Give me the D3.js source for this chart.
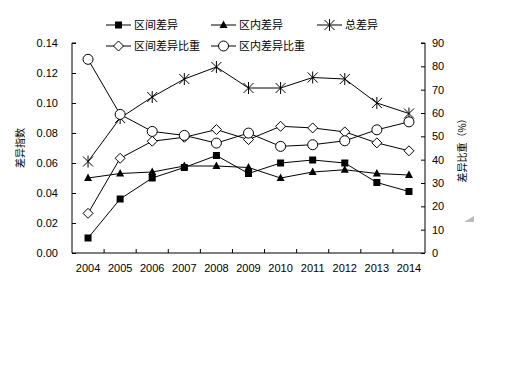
<!DOCTYPE html>
<html>
<head>
<meta charset="utf-8">
<script src="https://cdn.jsdelivr.net/npm/d3@7.9.0/dist/d3.min.js"></script>
<style>
  body { margin: 0; background: #fff; }
  svg { display: block; }
  text { font-family: "Liberation Sans", Arial, sans-serif; fill: #000; }
  .zh { font-family: "Noto Sans CJK SC", sans-serif; }
</style>
</head>
<body>
<svg width="512" height="384"></svg>
<script>
// data
const years = ['2004','2005','2006','2007','2008','2009','2010','2011','2012','2013','2014'];
const interDiff = [0.010, 0.036, 0.050, 0.057, 0.065, 0.053, 0.060, 0.062, 0.060, 0.047, 0.041];
const intraDiff = [0.050, 0.053, 0.054, 0.058, 0.058, 0.057, 0.050, 0.054, 0.0555, 0.053, 0.052];
const totalDiff = [0.061, 0.090, 0.104, 0.116, 0.124, 0.110, 0.110, 0.117, 0.116, 0.100, 0.093];
const interShare = [17.0, 40.6, 47.9, 49.6, 52.9, 48.6, 54.3, 53.6, 51.9, 47.2, 43.8];
const intraShare = [83.0, 59.4, 52.1, 50.4, 47.1, 51.4, 45.7, 46.4, 48.1, 52.8, 56.2];
const leftTicks = [0, 0.02, 0.04, 0.06, 0.08, 0.10, 0.12, 0.14];
const rightTicks = [0, 10, 20, 30, 40, 50, 60, 70, 80, 90];

const series = [
  { name: '区间差异', values: interDiff, axis: 'left', marker: 'square' },
  { name: '区内差异', values: intraDiff, axis: 'left', marker: 'triangle' },
  { name: '总差异', values: totalDiff, axis: 'left', marker: 'star' },
  { name: '区间差异比重', values: interShare, axis: 'right', marker: 'diamond' },
  { name: '区内差异比重', values: intraShare, axis: 'right', marker: 'circle' }
];

const svg = d3.select('svg');
const plotL = 72, plotR = 425, plotT = 43, plotB = 253;

const x = d3.scaleBand().domain(years).range([plotL, plotR]);
const yL = d3.scaleLinear().domain([0, 0.14]).range([plotB, plotT]);
const yR = d3.scaleLinear().domain([0, 90]).range([plotB, plotT]);

// axes (ticks point inward)
svg.append('g')
  .attr('transform', `translate(${plotL},0)`)
  .call(d3.axisRight(yL).tickValues(leftTicks).tickSize(4).tickFormat(''))
  .call(g => g.select('.domain').attr('d', `M4,${plotT}H0V${plotB}`));
svg.append('g').selectAll('text').data(leftTicks).join('text')
  .attr('x', plotL - 14).attr('y', d => yL(d) + 4)
  .attr('text-anchor', 'end').attr('font-size', 11)
  .text(d => d3.format('.2f')(d));

svg.append('g')
  .attr('transform', `translate(${plotR},0)`)
  .call(d3.axisLeft(yR).tickValues(rightTicks).tickSize(4).tickFormat(''))
  .call(g => g.select('.domain').attr('d', `M-4,${plotT}H0V${plotB}`));
svg.append('g').selectAll('text').data(rightTicks).join('text')
  .attr('x', plotR + 7).attr('y', d => yR(d) + 4)
  .attr('text-anchor', 'start').attr('font-size', 11)
  .text(d => d);

// x axis, ticks at band edges
const xg = svg.append('g');
xg.append('line').attr('x1', plotL).attr('x2', plotR).attr('y1', plotB).attr('y2', plotB).attr('stroke', '#000');
xg.selectAll('line.t').data(years.slice(1)).join('line')
  .attr('class', 't')
  .attr('x1', d => x(d)).attr('x2', d => x(d))
  .attr('y1', plotB).attr('y2', plotB - 4).attr('stroke', '#000');
xg.selectAll('text').data(years).join('text')
  .attr('x', d => x(d) + x.bandwidth() / 2).attr('y', 272)
  .attr('text-anchor', 'middle').attr('font-size', 11)
  .text(d => d);
svg.selectAll('.domain, .tick line').attr('stroke', '#000');

// axis titles
svg.append('text').attr('class', 'zh')
  .attr('transform', `translate(24,${(plotT + plotB) / 2}) rotate(-90)`)
  .attr('text-anchor', 'middle').attr('font-size', 10)
  .text('差异指数');
svg.append('text').attr('class', 'zh')
  .attr('transform', `translate(466,${(plotT + plotB) / 2}) rotate(-90)`)
  .attr('text-anchor', 'middle').attr('font-size', 10)
  .text('差异比重（%）');

function drawMarker(g, type, cx, cy) {
  if (type === 'square') {
    g.append('rect').attr('x', cx - 3.5).attr('y', cy - 3.5).attr('width', 7).attr('height', 7).attr('fill', '#000');
  } else if (type === 'triangle') {
    g.append('path').attr('d', `M${cx},${cy - 4.5}L${cx + 4},${cy + 3}L${cx - 4},${cy + 3}Z`).attr('fill', '#000');
  } else if (type === 'star') {
    const r = 5;
    g.append('path')
      .attr('d', `M${cx - r},${cy - r}L${cx + r},${cy + r}M${cx - r},${cy + r}L${cx + r},${cy - r}M${cx},${cy - r - 1}V${cy + r + 1}`)
      .attr('stroke', '#000').attr('fill', 'none');
  } else if (type === 'diamond') {
    g.append('path').attr('d', `M${cx},${cy - 5}L${cx + 5},${cy}L${cx},${cy + 5}L${cx - 5},${cy}Z`)
      .attr('fill', '#fff').attr('stroke', '#000');
  } else if (type === 'circle') {
    g.append('circle').attr('cx', cx).attr('cy', cy).attr('r', 5)
      .attr('fill', '#fff').attr('stroke', '#000');
  }
}

// lines and markers
series.forEach(s => {
  const y = s.axis === 'left' ? yL : yR;
  const line = d3.line().x((d, i) => x(years[i]) + x.bandwidth() / 2).y(d => y(d));
  svg.append('path').datum(s.values).attr('d', line)
    .attr('fill', 'none').attr('stroke', '#000').attr('stroke-width', 1);
});
series.forEach(s => {
  const y = s.axis === 'left' ? yL : yR;
  const g = svg.append('g');
  s.values.forEach((v, i) => drawMarker(g, s.marker, x(years[i]) + x.bandwidth() / 2, y(v)));
});

// legend
const legendPos = [[106, 25], [211, 25], [317, 25], [106, 46], [211, 46]];
series.forEach((s, i) => {
  const [lx, ly] = legendPos[i];
  const g = svg.append('g');
  g.append('line').attr('x1', lx).attr('x2', lx + 25).attr('y1', ly).attr('y2', ly).attr('stroke', '#000');
  drawMarker(g, s.marker, lx + 12.5, ly);
  g.append('text').attr('class', 'zh').attr('x', lx + 28).attr('y', ly + 4)
    .attr('font-size', 11).text(s.name);
});

// small grey corner mark at right
svg.append('path').attr('d', 'M464,222L474,216L474,222Z').attr('fill', '#bbb');
</script>
</body>
</html>
